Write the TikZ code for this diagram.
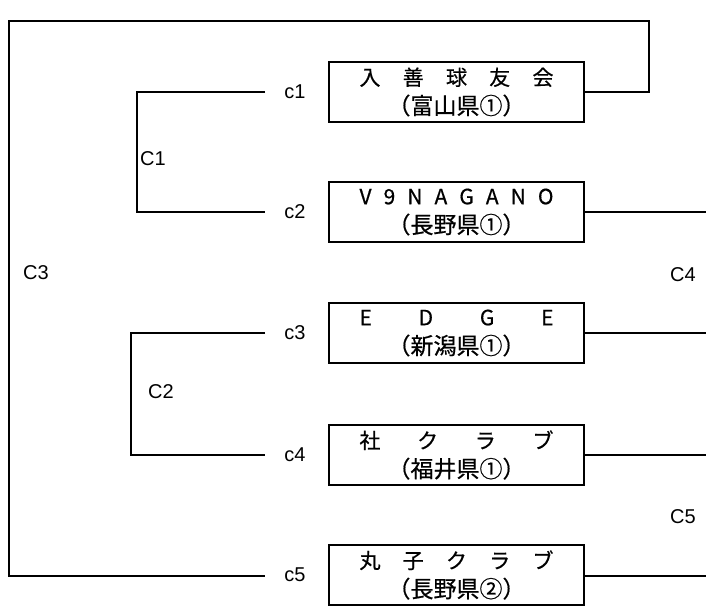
\documentclass[tikz,border=0pt]{standalone}
\usepackage{fontspec}
\setmainfont{Liberation Sans}
\newfontfamily\jp[FakeBold=0.6]{Noto Sans CJK JP}
\newcommand\spreadline[1]{\makebox[194pt][s]{#1}}
\newcommand\pref[1]{{\fontsize{23}{23}\selectfont #1}}
\begin{document}
\begin{tikzpicture}[x=1pt,y=-1pt,
  team/.style={draw, line width=1.6pt, minimum width=255pt, minimum height=60pt,
    inner sep=0pt, align=center, font=\jp\fontsize{21}{29}\selectfont},
  wire/.style={line width=1.6pt},
  lab/.style={font=\fontsize{20}{20}\selectfont, inner sep=0pt}]
\useasboundingbox (0,0) rectangle (706,606);
% team boxes
\node[team] (b1) at (456.5,92)  {\spreadline{入\hfill 善\hfill 球\hfill 友\hfill 会}\\\pref{（富山県①）}};
\node[team] (b2) at (456.5,212) {\spreadline{V\hfill 9\hfill N\hfill A\hfill G\hfill A\hfill N\hfill O}\\\pref{（長野県①）}};
\node[team] (b3) at (456.5,333) {\spreadline{E\hfill D\hfill G\hfill E}\\\pref{（新潟県①）}};
\node[team] (b4) at (456.5,455) {\spreadline{社\hfill ク\hfill ラ\hfill ブ}\\\pref{（福井県①）}};
\node[team] (b5) at (456.5,575) {\spreadline{丸\hfill 子\hfill ク\hfill ラ\hfill ブ}\\\pref{（長野県②）}};
% slot labels
\node[lab] (t1) at (295,92)  {c1};
\node[lab] (t2) at (295,212) {c2};
\node[lab] (t3) at (295,333) {c3};
\node[lab] (t4) at (295,455) {c4};
\node[lab] (t5) at (295,575) {c5};
% match labels
\node[lab] (m1) at (153,159) {C1};
\node[lab] (m2) at (161,392) {C2};
\node[lab] (m3) at (36,273)  {C3};
\node[lab] (m4) at (683,275) {C4};
\node[lab] (m5) at (683,517) {C5};
% free ends
\coordinate (l1) at (265,92);
\coordinate (l2) at (265,212);
\coordinate (l3) at (265,333);
\coordinate (l4) at (265,455);
\coordinate (l5) at (265,576);
\coordinate (k1) at (137,92);
\coordinate (k3) at (131,333);
\coordinate (tr) at (649,21);
\coordinate (tl) at (9,21);
\coordinate (r2) at (706,212);
\coordinate (r3) at (706,333);
\coordinate (r4) at (706,455);
\coordinate (r5) at (706,576);
% brackets
\draw[wire] (l1) -- (k1) |- (l2);
\draw[wire] (l3) -- (k3) |- (l4);
\draw[wire] (b1.east) -| (tr) -- (tl) |- (l5);
\draw[wire] (b2.east) -- (r2);
\draw[wire] (b3.east) -- (r3);
\draw[wire] (b4.east) -- (r4);
\draw[wire] (b5.east |- r5) -- (r5);
\end{tikzpicture}
\end{document}
